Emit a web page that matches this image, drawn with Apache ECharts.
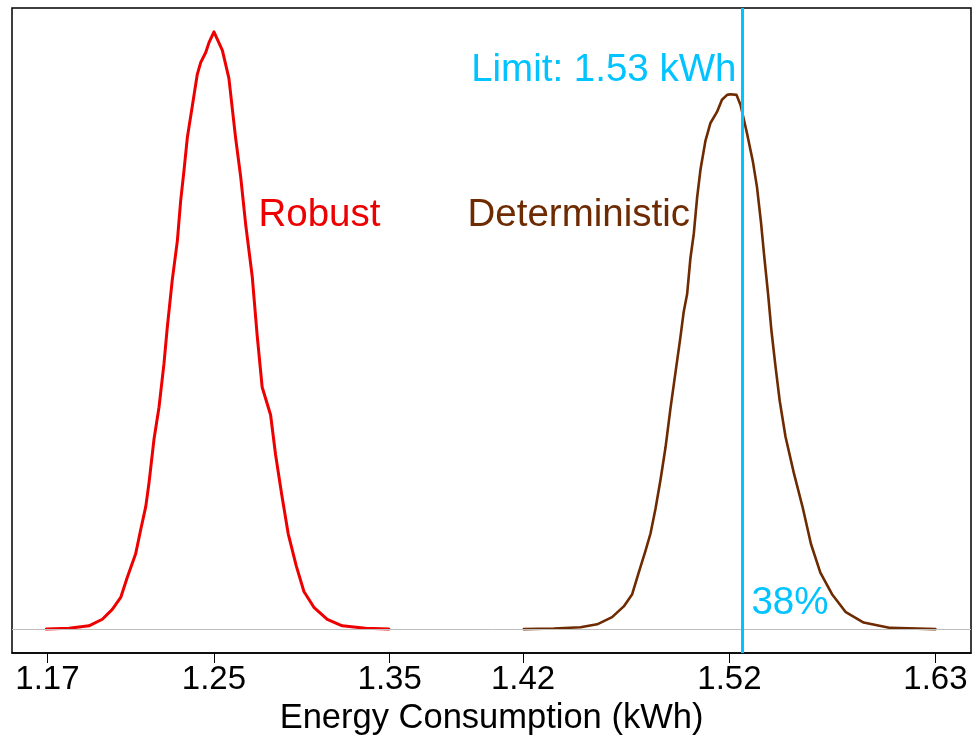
<!DOCTYPE html>
<html>
<head>
<meta charset="utf-8">
<script src="https://cdn.jsdelivr.net/npm/echarts@6/dist/echarts.min.js"></script>
<style>
  html, body { margin: 0; padding: 0; background: #fff; }
  #chart { width: 975px; height: 742px; }
</style>
</head>
<body>
<div id="chart"></div>
<script>
// ---- Data ----
const robustX = [1.1663,1.1782,1.1886,1.1956,1.2008,1.2052,1.2086,1.2130,1.2156,1.2183,1.2200,1.2226,1.2252,1.2278,1.2295,1.2321,1.2348,1.2365,1.2383,1.2400,1.2426,1.2452,1.2470,1.2496,1.2513,1.2539,1.2583,1.2617,1.2652,1.2679,1.2705,1.2739,1.2765,1.2791,1.2835,1.2861,1.2893,1.2927,1.2969,1.3009,1.3061,1.3131,1.3209,1.3331,1.3453];
const robustY = [0,0.03,0.11,0.33,0.66,1.06,1.73,2.52,3.32,4.11,4.91,6.37,7.43,8.89,10.09,11.68,13.01,14.33,15.39,16.46,17.52,18.58,18.98,19.31,19.64,20.0,19.38,18.45,16.46,15.13,13.54,11.81,9.82,8.10,7.17,5.84,4.51,3.19,2.12,1.26,0.73,0.33,0.11,0.03,0];

const detX = [1.4158,1.4315,1.4454,1.4541,1.4619,1.4680,1.4724,1.4758,1.4793,1.4820,1.4846,1.4872,1.4898,1.4924,1.4950,1.4976,1.4993,1.5011,1.5028,1.5046,1.5063,1.5081,1.5107,1.5133,1.5167,1.5193,1.5220,1.5237,1.5269,1.5290,1.5324,1.5355,1.5376,1.5397,1.5415,1.5434,1.5451,1.5472,1.5495,1.5525,1.5568,1.5616,1.5658,1.5707,1.5768,1.5838,1.5933,1.6073,1.6308];
const detY = [0,0.02,0.06,0.16,0.40,0.76,1.17,1.89,2.61,3.21,4.04,5.00,6.08,7.39,8.59,9.78,10.62,11.22,12.41,13.25,14.44,15.40,16.36,16.95,17.32,17.73,17.89,17.91,17.89,17.55,16.60,15.64,14.80,13.61,12.41,11.22,10.02,8.83,7.63,6.44,5.24,4.04,2.85,1.89,1.17,0.58,0.22,0.04,0];

const tickValues = [1.1669, 1.2539, 1.3457, 1.4154, 1.5232, 1.6308];
const tickLabels = ['1.17', '1.25', '1.35', '1.42', '1.52', '1.63'];

const limitValue = 1.53;
const limitText = 'Limit: 1.53 kWh';
const pctText = '38%';
const robustName = 'Robust';
const detName = 'Deterministic';
const xTitle = 'Energy Consumption (kWh)';

// annotation anchor positions (data coords)
const robustLabelPos = [1.309, 13.86];
const detLabelPos = [1.4445, 13.86];
const limitLabelY = 18.72;
const pctLabelY = 0.85;

// ---- Styles ----
const RED = '#EE0000';
const BROWN = '#6E2A00';
const CYAN = '#00C3FF';
const FONT = '"Liberation Sans", Arial, Helvetica, sans-serif';

const zip = (xs, ys) => xs.map((x, i) => [x, ys[i]]);

const chart = echarts.init(document.getElementById('chart'), null, { renderer: 'canvas' });

function annot(pos, text, color, position, distance) {
  return {
    value: pos,
    label: { show: true, position: position, distance: distance || 0, formatter: text, color: color, opacity: 1, fontSize: 38.5, fontFamily: FONT }
  };
}

const option = {
  animation: false,
  backgroundColor: '#ffffff',
  textStyle: { fontFamily: FONT },
  grid: { left: 12, right: 4, top: 8, bottom: 89, show: true, borderColor: '#000', borderWidth: 1.5, containLabel: false },
  xAxis: {
    type: 'value',
    min: 1.1484,
    max: 1.6494,
    name: xTitle,
    nameLocation: 'middle',
    nameGap: 45,
    nameTextStyle: { fontSize: 34.5, color: '#000', fontFamily: FONT },
    axisLine: { show: true, onZero: false, lineStyle: { color: '#000', width: 1.5 } },
    axisTick: { show: true, inside: false, length: 10, customValues: tickValues, lineStyle: { color: '#000', width: 1 } },
    axisLabel: {
      show: true,
      customValues: tickValues,
      margin: 10,
      fontSize: 33,
      color: '#000',
      fontFamily: FONT,
      formatter: function (v) {
        let best = 0, bd = Infinity;
        tickValues.forEach((t, i) => { const d = Math.abs(t - v); if (d < bd) { bd = d; best = i; } });
        return tickLabels[best];
      }
    },
    splitLine: { show: false }
  },
  yAxis: {
    type: 'value',
    min: -0.8,
    max: 20.8,
    show: false,
    splitLine: { show: false }
  },
  series: [
    {
      type: 'line',
      data: [],
      z: 1,
      silent: true,
      markLine: {
        silent: true,
        symbol: 'none',
        label: { show: false },
        lineStyle: { color: '#BEBEBE', width: 1, type: 'solid' },
        data: [{ yAxis: 0 }]
      }
    },
    {
      name: robustName,
      type: 'line',
      data: zip(robustX, robustY),
      showSymbol: false,
      smooth: false,
      lineStyle: { color: RED, width: 3, join: 'round', cap: 'round' },
      itemStyle: { color: RED },
      z: 2
    },
    {
      name: detName,
      type: 'line',
      data: zip(detX, detY),
      showSymbol: false,
      smooth: false,
      lineStyle: { color: BROWN, width: 2.6, join: 'round', cap: 'round' },
      itemStyle: { color: BROWN },
      z: 2
    },
    {
      type: 'line',
      data: [],
      z: 3,
      silent: true,
      markLine: {
        silent: true,
        symbol: 'none',
        label: { show: false },
        lineStyle: { color: CYAN, width: 3, type: 'solid' },
        data: [{ xAxis: limitValue }]
      }
    },
    {
      type: 'scatter',
      symbolSize: 0,
      silent: true,
      z: 4,
      itemStyle: { opacity: 1 },
      data: [
        annot(robustLabelPos, robustName, RED, 'inside'),
        annot(detLabelPos, detName, BROWN, 'inside'),
        annot([limitValue, limitLabelY], limitText, CYAN, 'left', 6),
        annot([limitValue, pctLabelY], pctText, CYAN, 'right', 9)
      ]
    }
  ]
};

chart.setOption(option);
</script>
</body>
</html>
